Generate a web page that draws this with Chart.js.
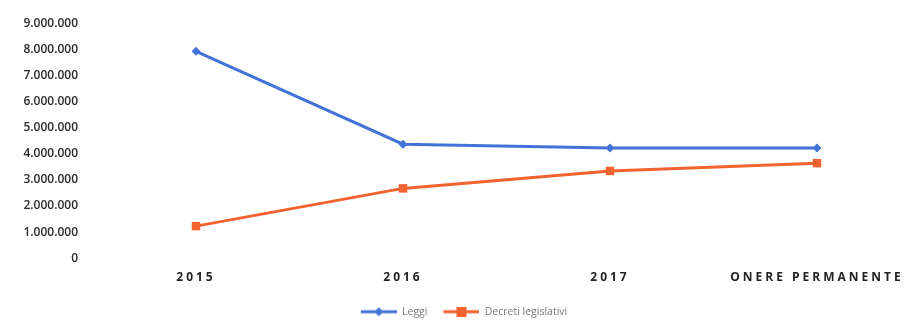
<!DOCTYPE html>
<html>
<head>
<meta charset="utf-8">
<script src="https://cdn.jsdelivr.net/npm/chart.js@4"></script>
<style>
  html, body { margin: 0; padding: 0; background: #fff; }
  #wrap { width: 907px; height: 327px; }
</style>
</head>
<body>
<div id="wrap"><canvas id="costChart"></canvas></div>
<script>
const categories = ['2015', '2016', '2017', 'ONERE PERMANENTE'];
const leggi = [7950000, 4380000, 4230000, 4230000];
const decreti = [1230000, 2680000, 3350000, 3650000];
const yTicks = [0, 1000000, 2000000, 3000000, 4000000, 5000000, 6000000, 7000000, 8000000, 9000000];

const BLUE = '#4473d8';
const ORANGE = '#f2632f';

function formatNumber(v) {
  return String(v).replace(/\B(?=(\d{3})+(?!\d))/g, '.');
}

// line + marker swatch for the legend, with a blank gap on its left
function legendSwatch(color, shape) {
  const c = document.createElement('canvas');
  c.width = 44; c.height = 10;
  const g = c.getContext('2d');
  g.strokeStyle = color;
  g.fillStyle = color;
  g.lineWidth = 3;
  g.beginPath(); g.moveTo(8, 5); g.lineTo(44, 5); g.stroke();
  if (shape === 'rect') {
    g.fillRect(21, 0, 10, 10);
  } else {
    g.beginPath(); g.moveTo(26, 0.5); g.lineTo(30.5, 5); g.lineTo(26, 9.5); g.lineTo(21.5, 5); g.closePath(); g.fill();
  }
  return c;
}

// wider letter spacing for the category labels
const spacedLabels = {
  id: 'spacedLabels',
  afterLayout(chart) {
    const s = chart.scales.x;
    if (s._spaced) return;
    const orig = s.drawLabels.bind(s);
    s.drawLabels = function (area) {
      const c = this.ctx;
      const prev = c.letterSpacing;
      c.letterSpacing = '3px';
      orig(area);
      c.letterSpacing = prev;
    };
    s._spaced = true;
  }
};

const ctx = document.getElementById('costChart').getContext('2d');
new Chart(ctx, {
  type: 'line',
  data: {
    labels: categories,
    datasets: [{
      label: 'Leggi',
      data: leggi,
      borderColor: BLUE,
      backgroundColor: BLUE,
      borderWidth: 3,
      pointStyle: 'rectRot',
      pointRadius: 4.5,
      pointBorderWidth: 0,
      tension: 0
    }, {
      label: 'Decreti legislativi',
      data: decreti,
      borderColor: ORANGE,
      backgroundColor: ORANGE,
      borderWidth: 3,
      pointStyle: 'rect',
      pointRadius: 6,
      pointBorderWidth: 0,
      tension: 0
    }]
  },
  options: {
    responsive: true,
    maintainAspectRatio: false,
    animation: false,
    layout: { padding: { left: 13, top: 24, right: 0, bottom: 0 } },
    plugins: {
      tooltip: { enabled: false },
      legend: {
        position: 'bottom',
        labels: {
          color: '#7a7a7a',
          font: { family: 'Open Sans', size: 10.5 },
          usePointStyle: true,
          pointStyleWidth: 44,
          boxHeight: 10,
          padding: 8,
          generateLabels: chart => chart.data.datasets.map((ds, i) => ({
            text: ds.label,
            fontColor: '#7a7a7a',
            pointStyle: legendSwatch(ds.borderColor, i === 0 ? 'rectRot' : 'rect'),
            lineWidth: 0,
            datasetIndex: i
          }))
        }
      }
    },
    scales: {
      x: {
        offset: false,
        grid: { display: false, drawTicks: false },
        border: { display: false },
        ticks: {
          color: '#222',
          padding: 12,
          maxRotation: 0,
          autoSkip: false,
          font: { family: 'Open Sans', size: 12, weight: 'bold' }
        },
        afterFit: s => { s.paddingRight = 90; s.paddingLeft = 0; s.height += 2; }
      },
      y: {
        min: 0,
        max: 9000000,
        grid: { display: false, drawTicks: false },
        border: { display: false },
        afterBuildTicks: s => { s.ticks = yTicks.map(v => ({ value: v })); },
        afterFit: s => { s.width = 183; s.paddingTop = 0; s.paddingBottom = 0; },
        ticks: {
          color: '#2a2a2a',
          padding: 118,
          font: { family: 'Open Sans', size: 12, weight: '600' },
          callback: v => formatNumber(v)
        }
      }
    }
  },
  plugins: [spacedLabels]
});
</script>
</body>
</html>
